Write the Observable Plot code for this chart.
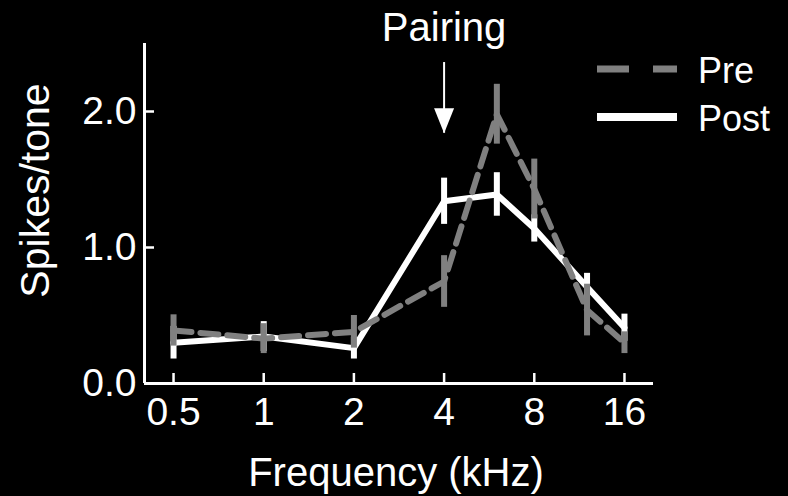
<!DOCTYPE html>
<html>
<head>
<meta charset="utf-8">
<script src="https://cdn.jsdelivr.net/npm/d3@7"></script>
<script src="https://cdn.jsdelivr.net/npm/@observablehq/plot@0.6"></script>
<style>
  html, body { margin: 0; padding: 0; background: #000; }
  #chart { width: 788px; height: 496px; }
</style>
</head>
<body>
<div id="chart"></div>
<script>
// ---- data ----
const freqs    = [0.5, 1, 2, 4, 6, 8, 12, 16];           // kHz
const preMean  = [0.39, 0.33, 0.38, 0.75, 1.98, 1.43, 0.54, 0.30];
const preErr   = [0.115, 0.11, 0.12, 0.19, 0.22, 0.22, 0.19, 0.08];
const postMean = [0.30, 0.345, 0.26, 1.34, 1.39, 1.14, 0.71, 0.41];
const postErr  = [0.12, 0.11, 0.08, 0.17, 0.16, 0.10, 0.10, 0.10];
const xTicks = [0.5, 1, 2, 4, 8, 16];
const yTicks = [0, 1, 2];
const xDomain = [0.4, 20];
const yDomain = [0, 2.5];
const seriesNames = ["Pre", "Post"];
const pairing = {label: "Pairing", x: 4, yTop: 2.36, yTip: 1.84};

const pre  = freqs.map((f, i) => ({f, v: preMean[i],  e: preErr[i]}));
const post = freqs.map((f, i) => ({f, v: postMean[i], e: postErr[i]}));

const GRAY = "#808080";
const FONT = "'Liberation Sans', Arial, Helvetica, sans-serif";

const downTriangle = {
  draw(ctx) {
    ctx.moveTo(-10, -25);
    ctx.lineTo(10, -25);
    ctx.lineTo(0, 0);
    ctx.closePath();
  }
};

const chart = Plot.plot({
  width: 788,
  height: 496,
  marginLeft: 144,
  marginRight: 135,
  marginTop: 43,
  marginBottom: 113,
  style: {background: "#000", color: "#fff", fontFamily: FONT},
  x: {type: "log", base: 2, domain: xDomain},
  y: {domain: yDomain},
  marks: [
    // axes
    Plot.axisX(xTicks, {tickSize: -10, tickPadding: 24, fontSize: 39, strokeWidth: 2.5,
      tickFormat: d => String(d), label: null, color: "#fff"}),
    Plot.axisY(yTicks, {tickSize: -10, tickPadding: 18, fontSize: 39, strokeWidth: 2.5,
      tickFormat: d3.format(".1f"), label: null, color: "#fff"}),
    Plot.ruleY([yDomain[0]], {stroke: "#fff", strokeWidth: 3}),
    Plot.ruleX([xDomain[0]], {stroke: "#fff", strokeWidth: 3}),
    // post
    Plot.ruleX(post, {x: "f", y1: d => d.v - d.e, y2: d => d.v + d.e, stroke: "#fff", strokeWidth: 6}),
    Plot.line(post, {x: "f", y: "v", stroke: "#fff", strokeWidth: 6, strokeLinejoin: "miter"}),
    // pre (drawn on top)
    Plot.ruleX(pre, {x: "f", y1: d => d.v - d.e, y2: d => d.v + d.e, stroke: GRAY, strokeWidth: 6}),
    Plot.line(pre, {x: "f", y: "v", stroke: GRAY, strokeWidth: 6, strokeDasharray: "18,9", strokeLinejoin: "miter"}),
    // pairing annotation
    Plot.ruleX([pairing], {x: "x", y1: "yTop", y2: "yTip", stroke: "#fff", strokeWidth: 2}),
    Plot.dot([pairing], {x: "x", y: "yTip", symbol: downTriangle, fill: "#fff", stroke: null, r: 10}),
    Plot.text([pairing], {x: "x", text: "label", frameAnchor: "top", lineAnchor: "top", dy: -31,
      fontSize: 40, fill: "#fff"}),
    // axis titles
    Plot.text(["Frequency (kHz)"], {frameAnchor: "bottom", textAnchor: "middle", lineAnchor: "top", dy: 74, dx: -3,
      fontSize: 40, fill: "#fff"}),
    Plot.text(["Spikes/tone"], {frameAnchor: "left", textAnchor: "middle", rotate: -90, lineAnchor: "middle",
      dx: -109, dy: -23, fontSize: 41, fill: "#fff"})
  ]
});

// legend (inside the svg, top right)
const svg = d3.select(chart);
const lg = svg.append("g").attr("font-family", FONT).attr("font-size", 36)
  .attr("fill", "#fff").attr("text-anchor", "start");
lg.append("line").attr("x1", 597).attr("x2", 677).attr("y1", 69).attr("y2", 69)
  .attr("stroke", GRAY).attr("stroke-width", 7).attr("stroke-dasharray", "32,24");
lg.append("line").attr("x1", 597).attr("x2", 677).attr("y1", 117).attr("y2", 117)
  .attr("stroke", "#fff").attr("stroke-width", 8);
lg.append("text").attr("x", 698).attr("y", 83).text(seriesNames[0]);
lg.append("text").attr("x", 698).attr("y", 131).text(seriesNames[1]);

document.getElementById("chart").appendChild(chart);
</script>
</body>
</html>
